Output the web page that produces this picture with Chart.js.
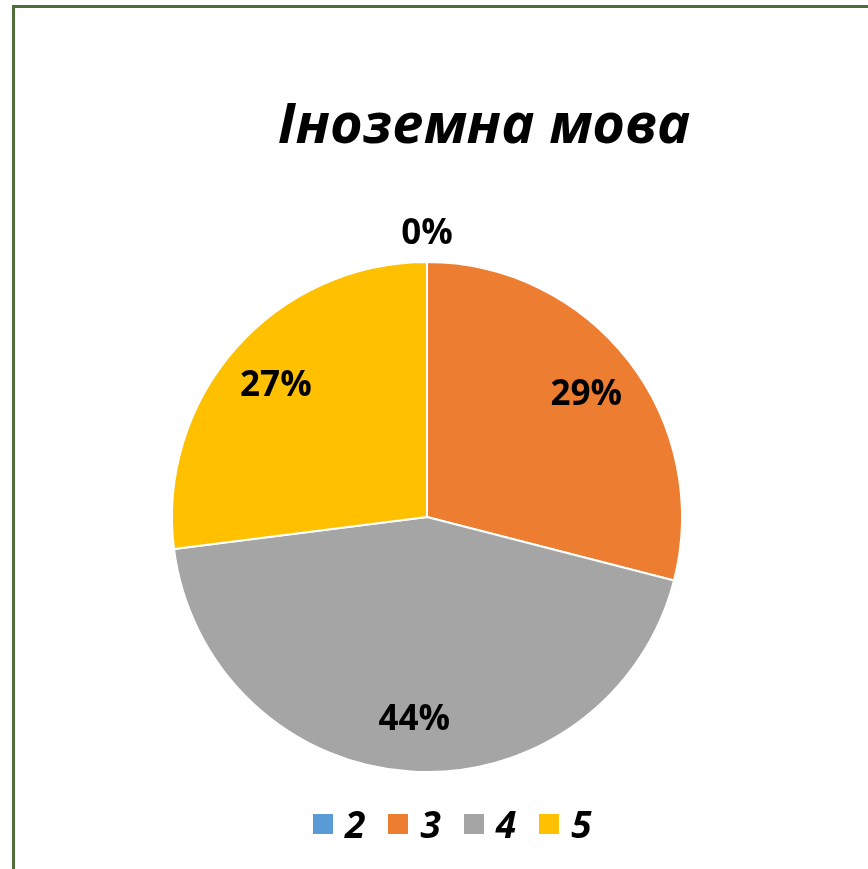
<!DOCTYPE html>
<html>
<head>
<meta charset="utf-8">
<script src="https://cdn.jsdelivr.net/npm/chart.js@4"></script>
<style>
    body { margin: 0; background: #fff; overflow: hidden; }
    #frame {
        position: absolute; left: 12px; top: 5px; width: 1000px; height: 1000px;
        border: 3px solid #4e6e3a; box-sizing: border-box;
    }
    #wrap { position: absolute; left: 0; top: 0; width: 868px; height: 869px; }
    #title {
        position: absolute; left: 0; top: 93px; width: 968px; text-align: center;
        font: italic bold 56px "Open Sans", sans-serif; line-height: 56px; color: #000;
    }
    #legend {
        position: absolute; left: 313px; top: 804px; display: flex; align-items: center;
        font: italic bold 37px "Open Sans", sans-serif; line-height: 40px; color: #000;
    }
    #legend .item { display: flex; align-items: center; margin-right: 23px; }
    #legend .box { width: 20px; height: 20px; margin-right: 12px; }
</style>
</head>
<body>
<div id="frame"></div>
<div id="wrap"><canvas id="chart" width="868" height="869"></canvas></div>
<div id="title"></div>
<div id="legend"></div>
<script>
// Chart data.
let chartTitle = 'Іноземна мова';
let gradeLabels = ['2', '3', '4', '5'];
let gradeValues = [0, 29, 44, 27];
let gradeColors = ['#5b9bd5', '#ed7d31', '#a5a5a5', '#ffc000'];

document.getElementById('title').textContent = chartTitle;

// Legend built from the same arrays.
let legendDiv = document.getElementById('legend');
gradeLabels.forEach((label, i) => {
    let item = document.createElement('div');
    item.className = 'item';
    let box = document.createElement('span');
    box.className = 'box';
    box.style.background = gradeColors[i];
    let text = document.createElement('span');
    text.textContent = label;
    item.appendChild(box);
    item.appendChild(text);
    legendDiv.appendChild(item);
});

// Percent labels drawn on top of each slice.
const percentLabels = {
    id: 'percentLabels',
    afterDatasetsDraw(chart) {
        let ctx = chart.ctx;
        let data = chart.data.datasets[0].data;
        let total = data.reduce((a, b) => a + b, 0);
        ctx.save();
        ctx.font = 'bold 35px "Open Sans", sans-serif';
        ctx.fillStyle = '#000';
        ctx.textAlign = 'center';
        ctx.textBaseline = 'middle';
        chart.getDatasetMeta(0).data.forEach((arc, i) => {
            let p = arc.getProps(['x', 'y', 'startAngle', 'endAngle', 'outerRadius'], true);
            let mid = (p.startAngle + p.endAngle) / 2;
            let r = data[i] > 0 ? p.outerRadius * 0.79 : p.outerRadius + 30;
            let text = Math.round(data[i] / total * 100) + '%';
            ctx.fillText(text, p.x + Math.cos(mid) * r, p.y + Math.sin(mid) * r + 2);
        });
        ctx.restore();
    }
};

let pieChart = new Chart(document.getElementById('chart'), {
    type: 'pie',
    data: {
        labels: gradeLabels,
        datasets: [{
            data: gradeValues,
            backgroundColor: gradeColors,
            borderColor: '#ffffff',
            borderWidth: 2,
            hoverOffset: 0,
            offset: 0
        }]
    },
    options: {
        responsive: false,
        animation: false,
        layout: {
            padding: { left: 171, right: 185, top: 261, bottom: 96 }
        },
        plugins: {
            legend: { display: false },
            title: { display: false },
            tooltip: { enabled: false }
        }
    },
    plugins: [percentLabels]
});
</script>
</body>
</html>
